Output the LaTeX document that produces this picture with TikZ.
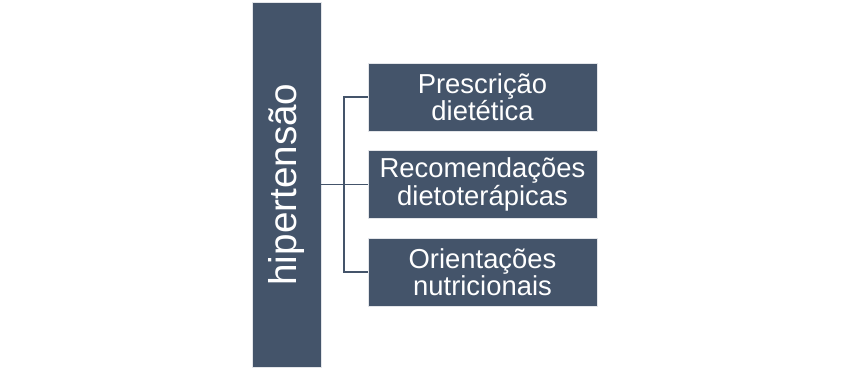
\documentclass[tikz,border=0pt]{standalone}
\usepackage{fontspec}
\setmainfont{Liberation Sans}
\usetikzlibrary{positioning}
\definecolor{slate}{HTML}{44546A}

\begin{document}
\begin{tikzpicture}[x=0.02cm,y=0.02cm,
  rootbox/.style={fill=slate,draw=white!85!slate,line width=0.4pt,minimum width=1.38cm,minimum height=7.3cm,inner sep=0pt,text=white,font=\fontsize{22}{26}\selectfont},
  itembox/.style={fill=slate,draw=white!85!slate,line width=0.4pt,minimum width=4.58cm,minimum height=1.36cm,inner sep=0pt,text=white,align=center,font=\fontsize{15.6}{15.5}\selectfont},
  link/.style={draw=slate,line width=0.6pt}]
  \useasboundingbox (0,0) rectangle (848,369);
  % left bar
  \node[rootbox] (root) at (286.5,184.5) {\rotatebox{90}{hipertensão}};
  % the three items
  \node[itembox] (presc) at (482.5,272) {Prescrição\\dietética};
  \node[itembox] (recom) at (482.5,184.5) {Recomendações\\dietoterápicas};
  \node[itembox] (orient) at (482.5,97) {Orientações\\nutricionais};
  % connectors
  \coordinate (fork) at (344,184.5);
  \draw[link] (root.east) -- (recom.west);
  \draw[link] (presc.west) -- (presc.west -| fork) -- (orient.west -| fork) -- (orient.west);
\end{tikzpicture}
\end{document}
